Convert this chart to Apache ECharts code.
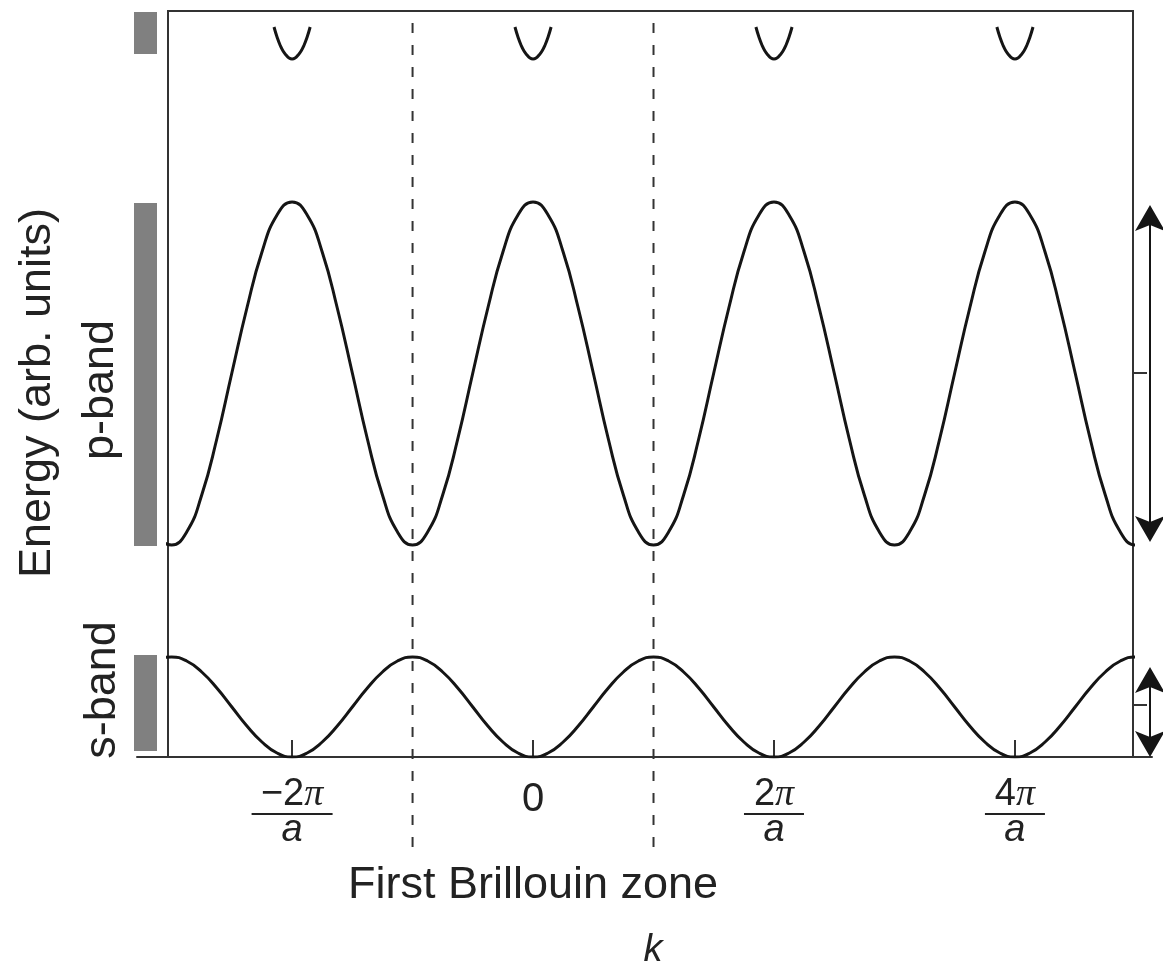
<!DOCTYPE html>
<html>
<head>
<meta charset="utf-8">
<script src="https://cdn.jsdelivr.net/npm/echarts@6/dist/echarts.min.js"></script>
<style>html,body{margin:0;padding:0;background:#fff}#c{width:1163px;height:967px}</style>
</head>
<body>
<div id="c"></div>
<script>
// ---- data (k in units of pi/a, energy in arbitrary units) ----
const kValues = [-3.25,-3.125,-3,-2.875,-2.75,-2.625,-2.5,-2.375,-2.25,-2.125,-2,-1.875,-1.75,-1.625,-1.5,-1.375,-1.25,-1.125,-1,-0.875,-0.75,-0.625,-0.5,-0.375,-0.25,-0.125,0,0.125,0.25,0.375,0.5,0.625,0.75,0.875,1,1.125,1.25,1.375,1.5,1.625,1.75,1.875,2,2.125,2.25,2.375,2.5,2.625,2.75,2.875,3,3.125,3.25,3.375,3.5,3.625,3.75,3.875,4,4.125,4.25,4.375,4.5,4.625,4.75,4.875,5,5.125,5.25];
const sBand = [0.85,0.96,
  1.00,0.96,0.85,0.69,0.50,0.31,0.15,0.04,0.00,0.04,0.15,0.31,0.50,0.69,0.85,0.96,
  1.00,0.96,0.85,0.69,0.50,0.31,0.15,0.04,0.00,0.04,0.15,0.31,0.50,0.69,0.85,0.96,
  1.00,0.96,0.85,0.69,0.50,0.31,0.15,0.04,0.00,0.04,0.15,0.31,0.50,0.69,0.85,0.96,
  1.00,0.96,0.85,0.69,0.50,0.31,0.15,0.04,0.00,0.04,0.15,0.31,0.50,0.69,0.85,0.96,
  1.00,0.96,0.85];
const pBand = [2.62,2.25,
  2.12,2.25,2.62,3.18,3.84,4.49,5.05,5.42,5.55,5.42,5.05,4.49,3.84,3.18,2.62,2.25,
  2.12,2.25,2.62,3.18,3.84,4.49,5.05,5.42,5.55,5.42,5.05,4.49,3.84,3.18,2.62,2.25,
  2.12,2.25,2.62,3.18,3.84,4.49,5.05,5.42,5.55,5.42,5.05,4.49,3.84,3.18,2.62,2.25,
  2.12,2.25,2.62,3.18,3.84,4.49,5.05,5.42,5.55,5.42,5.05,4.49,3.84,3.18,2.62,2.25,
  2.12,2.25,2.62];
const upperK = [-2.15,-2.125,-2.1,-2.075,-2.05,-2.025,-2,-1.975,-1.95,-1.925,-1.9,-1.875,-1.85,null,
  -0.15,-0.125,-0.1,-0.075,-0.05,-0.025,0,0.025,0.05,0.075,0.1,0.125,0.15,null,
  1.85,1.875,1.9,1.925,1.95,1.975,2,2.025,2.05,2.075,2.1,2.125,2.15,null,
  3.85,3.875,3.9,3.925,3.95,3.975,4,4.025,4.05,4.075,4.1,4.125,4.15];
const upperE = [7.30,7.20,7.12,7.06,7.02,6.99,6.98,6.99,7.02,7.06,7.12,7.20,7.30,null,
  7.30,7.20,7.12,7.06,7.02,6.99,6.98,6.99,7.02,7.06,7.12,7.20,7.30,null,
  7.30,7.20,7.12,7.06,7.02,6.99,6.98,6.99,7.02,7.06,7.12,7.20,7.30,null,
  7.30,7.20,7.12,7.06,7.02,6.99,6.98,6.99,7.02,7.06,7.12,7.20,7.30];
const bandRanges = [[0.06,1.02],[2.11,5.54],[7.03,7.45]];
const bandwidthArrows = [[2.15,5.52],[0.00,0.90]];
const bandMidTicks = [0.52,3.84];
const zoneEdges = [-1,1];
const tickValues = [-2,0,2,4];
const tickNumerators = ['−2','0','2','4'];
const tickDenominators = ['a','','a','a'];
const kMin = -3.03, kMax = 4.98;
const eMin = 0, eMax = 7.46;

const INK = '#151515', AX = '#333333', TXT = '#222222', GRAY = '#808080';
const FONT = 'Liberation Sans';

const chart = echarts.init(document.getElementById('c'), null, {renderer: 'canvas'});

const option = {
  animation: false,
  backgroundColor: '#ffffff',
  grid: [
    {left: 168, right: 30, top: 11, bottom: 210, show: true, borderColor: AX, borderWidth: 2, backgroundColor: 'transparent'},
    {left: 134, width: 23, top: 11, bottom: 210},
    {left: 1137, width: 32, top: 11, bottom: 210},
    {left: 137, right: 11, top: 11, bottom: 210},
    {left: 168, right: 30, top: 11, bottom: 120}
  ],
  xAxis: [
    {
      type: 'value', gridIndex: 0, min: kMin, max: kMax,
      axisLine: {show: false, onZero: false}, splitLine: {show: false},
      axisTick: {show: true, inside: true, length: 17, customValues: tickValues, lineStyle: {color: AX, width: 2}},
      axisLabel: {
        show: true, customValues: tickValues, margin: 22,
        formatter: function (v) {
          const i = tickValues.indexOf(v);
          if (i < 0) return '';
          if (!tickDenominators[i]) return '{z|' + tickNumerators[i] + '}';
          const bar = tickNumerators[i].charAt(0) === '−' ? 'barw' : 'bar';
          return '{n|' + tickNumerators[i] + '}{p|π}\n{' + bar + '|}\n{d|' + tickDenominators[i] + '}';
        },
        rich: {
          n: {fontSize: 38, fontFamily: FONT, color: TXT, lineHeight: 32},
          p: {fontSize: 38, fontFamily: 'Liberation Serif', fontStyle: 'italic', color: TXT, lineHeight: 32},
          bar: {width: 60, height: 2, backgroundColor: TXT, lineHeight: 6},
          barw: {width: 81, height: 2, backgroundColor: TXT, lineHeight: 6},
          d: {fontSize: 38, fontFamily: FONT, fontStyle: 'italic', color: TXT, lineHeight: 26},
          z: {fontSize: 40, fontFamily: FONT, color: TXT, lineHeight: 41}
        }
      }
    },
    {type: 'value', gridIndex: 1, min: 0, max: 1, show: false},
    {type: 'value', gridIndex: 2, min: 0, max: 1, show: false},
    {
      type: 'value', gridIndex: 3, min: 0, max: 1,
      axisLine: {show: true, onZero: false, lineStyle: {color: AX, width: 2}},
      axisTick: {show: false}, axisLabel: {show: false}, splitLine: {show: false}
    },
    {type: 'value', gridIndex: 4, min: kMin, max: kMax, show: false}
  ],
  yAxis: [
    {
      type: 'value', gridIndex: 0, min: eMin, max: eMax, position: 'right',
      axisLine: {show: false, onZero: false}, splitLine: {show: false}, axisLabel: {show: false},
      axisTick: {show: true, inside: false, length: 14, customValues: bandMidTicks, lineStyle: {color: AX, width: 2}}
    },
    {type: 'value', gridIndex: 1, min: eMin, max: eMax, show: false},
    {type: 'value', gridIndex: 2, min: eMin, max: eMax, show: false},
    {type: 'value', gridIndex: 3, min: 0, max: 1, show: false},
    {type: 'value', gridIndex: 4, min: 0, max: 1, show: false}
  ],
  series: [
    {
      name: 's-band', type: 'line', xAxisIndex: 0, yAxisIndex: 0,
      data: kValues.map((k, i) => [k, sBand[i]]),
      smooth: 0.5, symbol: 'none', clip: true, z: 5,
      lineStyle: {color: INK, width: 3}
    },
    {
      name: 'p-band', type: 'line', xAxisIndex: 0, yAxisIndex: 0,
      data: kValues.map((k, i) => [k, pBand[i]]),
      smooth: 0.5, symbol: 'none', clip: true, z: 5,
      lineStyle: {color: INK, width: 3}
    },
    {
      name: 'upper band', type: 'line', xAxisIndex: 0, yAxisIndex: 0,
      data: upperK.map((k, i) => (k === null ? [null, null] : [k, upperE[i]])),
      connectNulls: false, smooth: 0.5, symbol: 'none', clip: true, z: 5,
      lineStyle: {color: INK, width: 3}
    },
    {
      name: 'band extent', type: 'custom', xAxisIndex: 1, yAxisIndex: 1,
      data: bandRanges,
      renderItem: function (params, api) {
        const lo = api.value(0), hi = api.value(1);
        const a = api.coord([0, hi]), b = api.coord([1, lo]);
        return {type: 'rect', shape: {x: a[0], y: a[1], width: b[0] - a[0], height: b[1] - a[1]}, style: {fill: GRAY}};
      }
    },
    {
      name: 'band width', type: 'custom', xAxisIndex: 2, yAxisIndex: 2,
      data: bandwidthArrows,
      renderItem: function (params, api) {
        const lo = api.value(0), hi = api.value(1);
        const a = api.coord([0.5, lo]), b = api.coord([0.5, hi]);
        const L = 26, N = 20, W = 15;
        return {type: 'group', children: [
          {type: 'line', shape: {x1: a[0], y1: a[1] - N, x2: b[0], y2: b[1] + N}, style: {stroke: INK, lineWidth: 2}},
          {type: 'polygon', shape: {points: [[b[0], b[1]], [b[0] - W, b[1] + L], [b[0], b[1] + N], [b[0] + W, b[1] + L]]}, style: {fill: INK}},
          {type: 'polygon', shape: {points: [[a[0], a[1]], [a[0] - W, a[1] - L], [a[0], a[1] - N], [a[0] + W, a[1] - L]]}, style: {fill: INK}}
        ]};
      }
    },
    {
      name: 'zone edges', type: 'custom', xAxisIndex: 4, yAxisIndex: 4,
      data: zoneEdges.map(v => [v]),
      renderItem: function (params, api) {
        const v = api.value(0);
        const a = api.coord([v, 0]), b = api.coord([v, 1]);
        return {type: 'line', shape: {x1: a[0], y1: a[1], x2: b[0], y2: b[1] + 2}, style: {stroke: AX, lineWidth: 2, lineDash: [10, 12]}};
      }
    }
  ],
  graphic: [
    {type: 'text', x: 38, y: 393, rotation: Math.PI / 2,
     style: {text: 'Energy (arb. units)', fontSize: 45, fontFamily: FONT, fill: TXT, align: 'center', verticalAlign: 'middle', textAlign: 'center', textVerticalAlign: 'middle'}},
    {type: 'text', x: 101, y: 390, rotation: Math.PI / 2,
     style: {text: 'p-band', fontSize: 45, fontFamily: FONT, fill: TXT, align: 'center', verticalAlign: 'middle', textAlign: 'center', textVerticalAlign: 'middle'}},
    {type: 'text', x: 103, y: 690, rotation: Math.PI / 2,
     style: {text: 's-band', fontSize: 45, fontFamily: FONT, fill: TXT, align: 'center', verticalAlign: 'middle', textAlign: 'center', textVerticalAlign: 'middle'}},
    {type: 'text', x: 533, y: 886,
     style: {text: 'First Brillouin zone', fontSize: 45, fontFamily: FONT, fill: TXT, align: 'center', verticalAlign: 'middle', textAlign: 'center', textVerticalAlign: 'middle'}},
    {type: 'text', x: 653, y: 950,
     style: {text: 'k', fontSize: 38, fontStyle: 'italic', fontFamily: FONT, fill: TXT, align: 'center', verticalAlign: 'middle', textAlign: 'center', textVerticalAlign: 'middle'}}
  ]
};
chart.setOption(option);
</script>
</body>
</html>
